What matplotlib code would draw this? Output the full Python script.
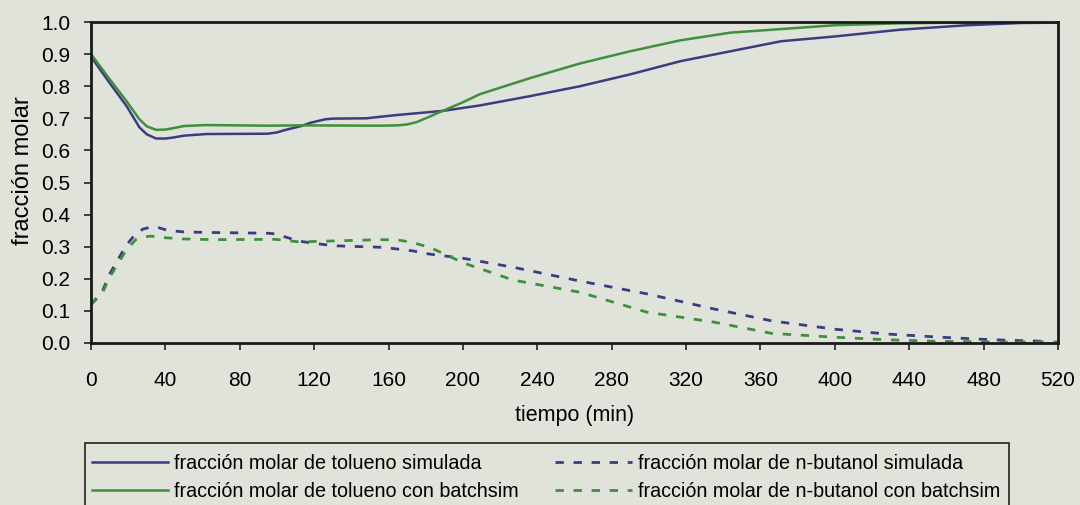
import matplotlib.pyplot as plt
from matplotlib.patches import Rectangle
import numpy as np

# tiempo (min) y fracciones molares
t_tol_sim = [0, 10, 19, 26, 30, 35, 40, 44, 50, 62, 95, 100, 104, 113, 118, 123, 126, 130, 148, 164, 189, 209, 236, 263, 290, 317, 344, 371, 400, 435, 471, 500, 520]
x_tol_sim = [0.892, 0.81, 0.739, 0.672, 0.65, 0.637, 0.637, 0.64, 0.646, 0.651, 0.652, 0.656, 0.663, 0.676, 0.686, 0.693, 0.697, 0.699, 0.70, 0.71, 0.723, 0.74, 0.769, 0.80, 0.837, 0.878, 0.909, 0.94, 0.955, 0.976, 0.99, 0.997, 0.998]

t_tol_bs = [0, 10, 19, 26, 30, 35, 40, 44, 50, 62, 95, 113, 156, 165, 170, 175, 180, 189, 200, 209, 236, 263, 290, 317, 344, 371, 400, 435, 480, 520]
x_tol_bs = [0.90, 0.822, 0.754, 0.697, 0.675, 0.664, 0.665, 0.669, 0.676, 0.679, 0.677, 0.678, 0.677, 0.678, 0.681, 0.688, 0.70, 0.723, 0.75, 0.775, 0.825, 0.871, 0.909, 0.943, 0.967, 0.978, 0.99, 0.996, 0.999, 0.999]

t_but_sim = [0, 6, 10, 19, 24, 28, 32, 36, 41, 50, 67, 95, 99, 112, 130, 157, 173, 182, 200, 227, 263, 299, 335, 366, 400, 428, 457, 485, 514]
x_but_sim = [0.12, 0.16, 0.215, 0.305, 0.34, 0.355, 0.361, 0.36, 0.351, 0.346, 0.344, 0.342, 0.34, 0.317, 0.303, 0.298, 0.287, 0.277, 0.264, 0.236, 0.193, 0.153, 0.106, 0.069, 0.043, 0.028, 0.018, 0.01, 0.005]

t_but_bs = [0, 6, 10, 19, 24, 28, 32, 40, 50, 67, 99, 112, 130, 157, 165, 173, 182, 191, 200, 227, 263, 299, 335, 366, 400, 428, 457, 490, 520]
x_but_bs = [0.12, 0.155, 0.205, 0.29, 0.322, 0.33, 0.333, 0.328, 0.324, 0.322, 0.323, 0.315, 0.318, 0.322, 0.321, 0.313, 0.298, 0.275, 0.25, 0.196, 0.158, 0.096, 0.065, 0.03, 0.018, 0.01, 0.005, 0.003, 0.003]

labels = ["fracción molar de tolueno simulada",
          "fracción molar de n-butanol simulada",
          "fracción molar de tolueno con batchsim",
          "fracción molar de n-butanol con batchsim"]

bg = "#dfe3da"
blue = "#3d3b82"
green = "#3f8f3c"
dash = (0, (3, 3.5))

plt.rcParams["font.family"] = ["Liberation Sans", "DejaVu Sans"]

fig = plt.figure(figsize=(10.8, 5.05), dpi=100, facecolor=bg)
ax = fig.add_axes([0.0843, 0.3208, 0.8953, 0.6356], facecolor=bg)

l1, = ax.plot(t_tol_sim, x_tol_sim, color=blue, lw=1.8)
l3, = ax.plot(t_tol_bs, x_tol_bs, color=green, lw=1.8)
l2, = ax.plot(t_but_sim, x_but_sim, color=blue, lw=2.0, linestyle=dash)
l4, = ax.plot(t_but_bs, x_but_bs, color=green, lw=2.0, linestyle=dash)

ax.set_xlim(0, 520)
ax.set_ylim(0, 1.0)
ax.set_xticks(np.arange(0, 521, 40))
ax.set_yticks(np.arange(0, 1.01, 0.1))
ax.yaxis.set_major_formatter(plt.FormatStrFormatter("%.1f"))
ax.tick_params(axis="both", labelsize=15, color="#222222", length=5, width=1.2)
ax.tick_params(axis="x", pad=15)
ax.tick_params(axis="y", pad=10)
for s in ax.spines.values():
    s.set_linewidth(2)
    s.set_color("#1a1a1a")

ax.set_xlabel("tiempo (min)", fontsize=15.5, labelpad=11)
ax.set_ylabel("fracción molar", fontsize=17)
ax.yaxis.set_label_coords(-0.059, 0.536)

# legend: two frameless columns inside one drawn box
W, H = 1080, 505
leg_kw = dict(loc="upper left", fontsize=14.2, handletextpad=0.3,
              borderaxespad=0, borderpad=0, frameon=False, labelspacing=0.45)
leg1 = fig.legend([l1, l3], [labels[0], labels[2]],
                  bbox_to_anchor=(92 / W, 1 - 454 / H), handlelength=3.85, **leg_kw)
leg2 = fig.legend([l2, l4], [labels[1], labels[3]],
                  bbox_to_anchor=(555 / W, 1 - 454 / H), handlelength=3.9, **leg_kw)
fig.add_artist(Rectangle((85 / W, -0.02), 924 / W, 1 - 443 / H + 0.02,
                         transform=fig.transFigure, fill=False,
                         edgecolor="#222222", lw=1.2))

fig.savefig("out.png", dpi=100, facecolor=bg)
